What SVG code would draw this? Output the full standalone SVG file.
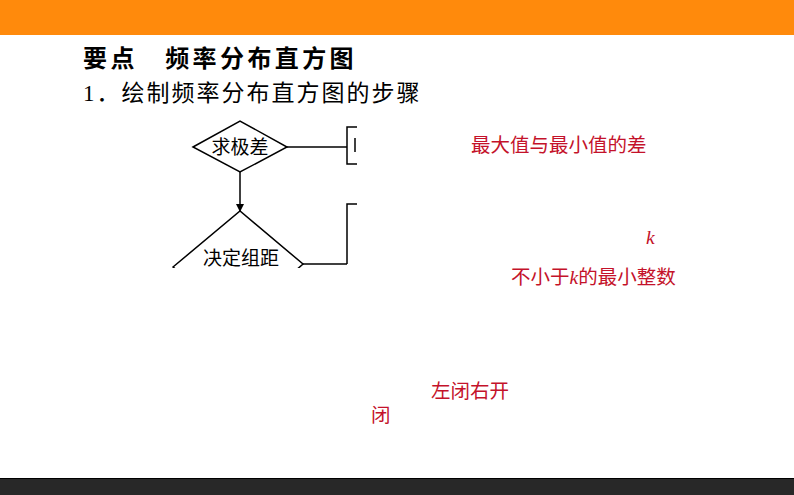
<svg xmlns="http://www.w3.org/2000/svg" width="794" height="495" viewBox="0 0 794 495">
<defs>
<style>
.t{font-family:"Liberation Serif","Noto Sans CJK SC",serif;fill:#000}
.red{font-family:"Liberation Serif","Noto Sans CJK SC",serif;fill:#c4122a;font-size:19.5px}
.ln{fill:none;stroke:#000;stroke-width:1.5}
</style>
<clipPath id="clip"><rect x="160" y="112" width="197" height="156"/></clipPath>
<marker id="arr" markerWidth="8" markerHeight="8" refX="7" refY="4" orient="auto" markerUnits="userSpaceOnUse">
<path d="M0,0 L8,4 L0,8 Z" fill="#000"/>
</marker>
</defs>
<rect x="0" y="0" width="794" height="35" fill="#ff8a0c"/>
<rect x="0" y="478" width="794" height="17" fill="#282828"/>
<line x1="0" y1="478.5" x2="794" y2="478.5" stroke="#000" stroke-width="1"/>
<text class="t" x="83" y="67" font-size="24" font-weight="bold" letter-spacing="3.4">要点　频率分布直方图</text>
<text class="t" x="83" y="101" font-size="23" letter-spacing="2">1．绘制频率分布直方图的步骤</text>
<g clip-path="url(#clip)">
<g id="node-range">
<polygon class="ln" points="193,147 240,121 287,147 240,172"/>
<text class="t" x="240" y="154" font-size="19" text-anchor="middle">求极差</text>
</g>
<g id="node-interval">
<polygon class="ln" points="173,267 240,211 303,264 240,320"/>
<text class="t" x="241" y="265" font-size="19" text-anchor="middle">决定组距</text>
</g>
<g id="bracket-1">
<polyline class="ln" points="357,127 347,127 347,164 357,164"/>
<line class="ln" x1="355" y1="138" x2="355" y2="152"/>
</g>
<g id="bracket-2">
<polyline class="ln" points="357,204 347,204 347,264"/>
</g>
<g id="connectors">
<line class="ln" x1="287" y1="147" x2="347" y2="147"/>
<line class="ln" x1="240" y1="172" x2="240" y2="211" marker-end="url(#arr)"/>
<line class="ln" x1="303" y1="264" x2="347" y2="264"/>
</g>
</g>
<text class="red" x="471" y="152">最大值与最小值的差</text>
<text class="red" x="646" y="244" font-style="italic">k</text>
<text class="red" x="511" y="284">不小于<tspan font-style="italic">k</tspan>的最小整数</text>
<text class="red" x="431" y="398">左闭右开</text>
<text class="red" x="371" y="422">闭</text>
</svg>
